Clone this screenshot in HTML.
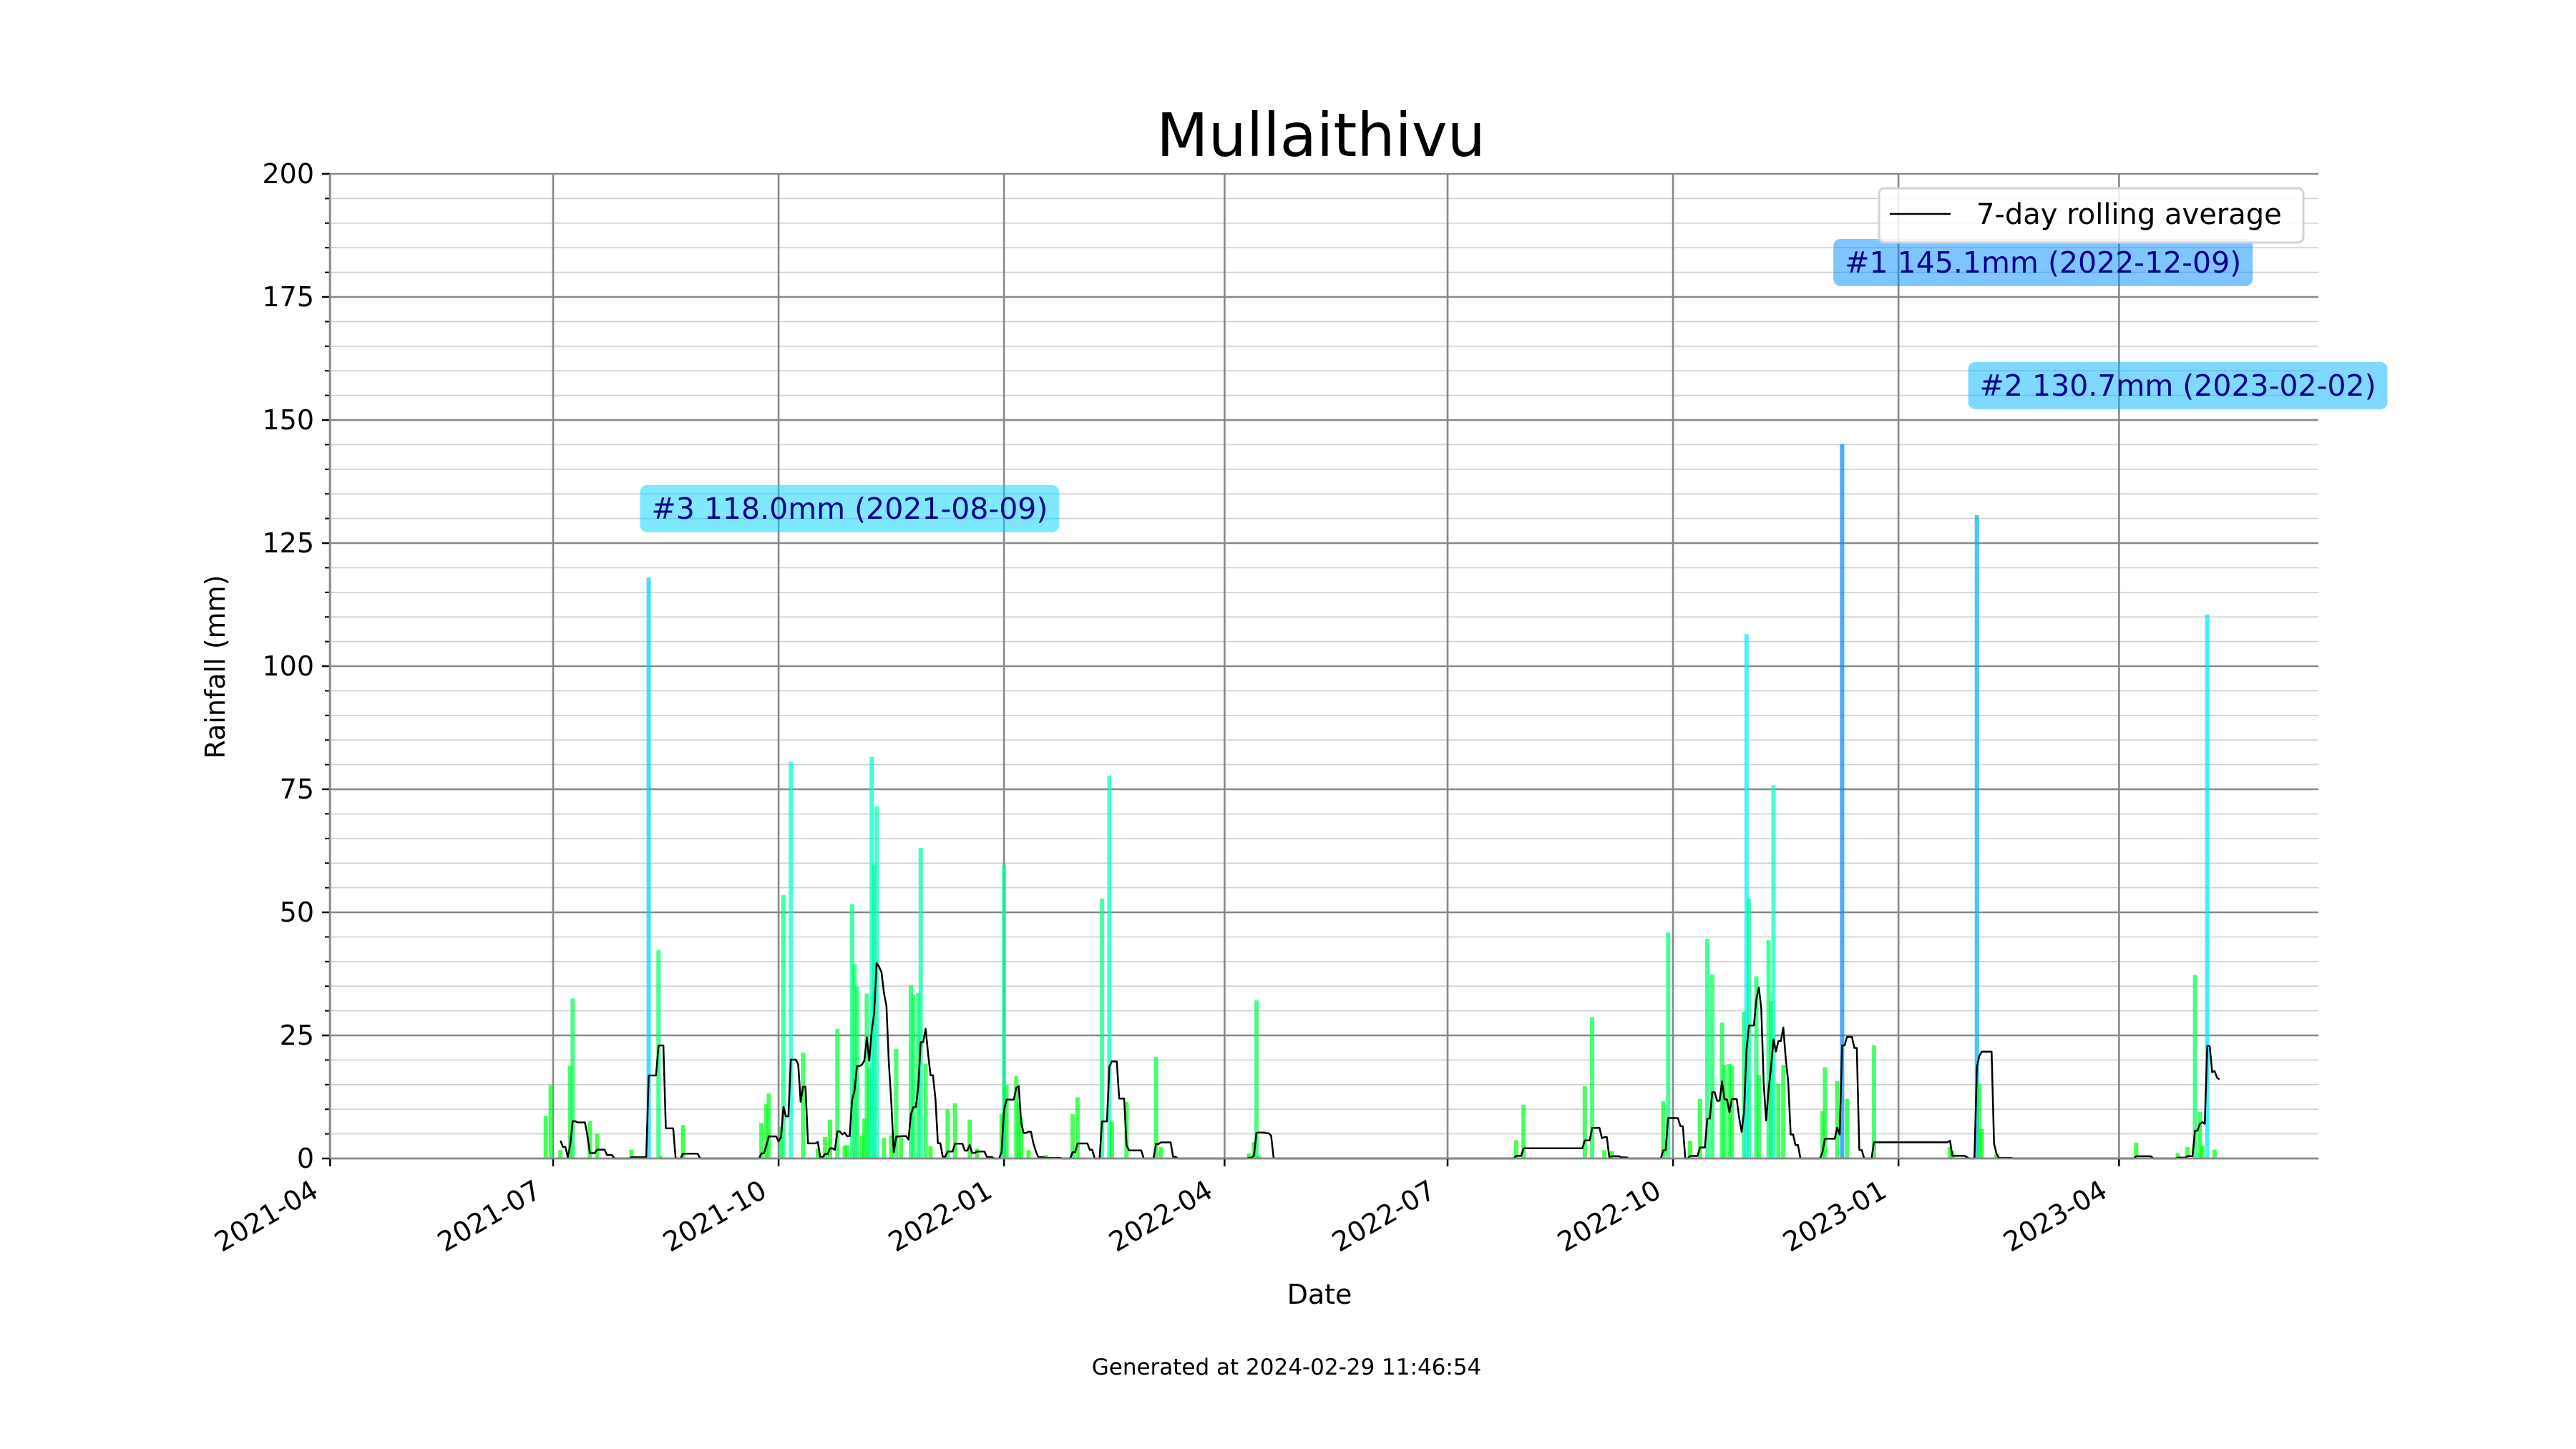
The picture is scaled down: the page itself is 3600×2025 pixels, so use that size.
<!DOCTYPE html>
<html><head><meta charset="utf-8"><title>Mullaithivu Rainfall</title>
<style>
html,body{margin:0;padding:0;background:#fff;}
svg{display:block;font-family:"DejaVu Sans","Liberation Sans",sans-serif;}
</style></head>
<body>
<svg id="chart" xmlns="http://www.w3.org/2000/svg" width="3600" height="2025" viewBox="0 0 3600 2025">
<rect x="0" y="0" width="3600" height="2025" fill="#ffffff"/>
<g id="grid"></g>
<g id="bars"></g>
<g id="line"></g>
<g id="axes"></g>
<g id="annots"></g>
<text x="1846" y="218" font-size="84" text-anchor="middle" fill="#000">Mullaithivu</text>
<text x="1844" y="1822" font-size="38" text-anchor="middle" fill="#000">Date</text>
<text x="0" y="0" font-size="38" text-anchor="middle" fill="#000" transform="translate(314,932) rotate(-90)">Rainfall (mm)</text>
<text x="1798" y="1921" font-size="31" text-anchor="middle" fill="#000">Generated at 2024-02-29 11:46:54</text>
<g>
<rect x="2626" y="263" width="593" height="76" rx="8" fill="#ffffff" fill-opacity="0.85" stroke="#d3d3d3" stroke-width="3"/>
<line x1="2641" y1="299" x2="2726" y2="299" stroke="#000" stroke-width="2.5"/>
<text x="2762" y="313" font-size="40" fill="#000">7-day rolling average</text>
</g>
</svg>
<script>
// ---- data ----
const rainDates = ["2021-06-28","2021-06-30","2021-07-04","2021-07-08","2021-07-09","2021-07-16","2021-07-19","2021-08-02","2021-08-09","2021-08-13","2021-08-14","2021-08-23","2021-09-24","2021-09-26","2021-09-27","2021-10-02","2021-10-03","2021-10-06","2021-10-11","2021-10-17","2021-10-20","2021-10-22","2021-10-25","2021-10-28","2021-10-29","2021-10-31","2021-11-01","2021-11-02","2021-11-04","2021-11-05","2021-11-06","2021-11-07","2021-11-08","2021-11-09","2021-11-10","2021-11-13","2021-11-16","2021-11-18","2021-11-20","2021-11-24","2021-11-25","2021-11-27","2021-11-28","2021-11-30","2021-12-02","2021-12-09","2021-12-12","2021-12-18","2021-12-21","2021-12-31","2022-01-01","2022-01-02","2022-01-06","2022-01-07","2022-01-08","2022-01-11","2022-01-18","2022-01-29","2022-01-31","2022-02-10","2022-02-13","2022-02-14","2022-02-20","2022-03-04","2022-03-06","2022-04-11","2022-04-13","2022-04-14","2022-04-15","2022-07-29","2022-08-01","2022-08-26","2022-08-29","2022-09-03","2022-09-06","2022-09-27","2022-09-29","2022-10-08","2022-10-12","2022-10-15","2022-10-17","2022-10-21","2022-10-22","2022-10-24","2022-10-25","2022-10-30","2022-10-31","2022-11-01","2022-11-04","2022-11-05","2022-11-09","2022-11-10","2022-11-11","2022-11-13","2022-11-15","2022-12-01","2022-12-02","2022-12-07","2022-12-09","2022-12-11","2022-12-22","2023-01-22","2023-01-23","2023-02-02","2023-02-03","2023-02-04","2023-02-10","2023-04-08","2023-04-25","2023-04-29","2023-05-02","2023-05-04","2023-05-05","2023-05-07","2023-05-10"];
const rainValues = [8.6,14.9,1.7,18.8,32.5,7.6,5,1.8,118,42.3,0.5,6.8,7.2,11,13.2,6.4,53.5,80.6,21.5,2,4.4,7.9,26.3,2.6,2.7,51.7,39.5,34.9,4.7,8.1,33.5,18.4,81.6,59.7,71.5,4.2,4.7,22.3,4.7,35.2,33.3,33.6,63.1,19.2,2.5,10,11.2,7.9,2,9,59.7,14.9,16.7,11.5,8.2,1.7,0.7,9,12.4,52.8,77.8,7.4,11.5,20.6,2.3,1,3.3,32.1,0.5,3.7,10.9,14.7,28.7,1.7,1.5,11.6,45.9,3.6,12.1,44.6,37.4,27.6,19,19.2,18.8,29.8,106.5,52.8,37,17,44.3,32,75.8,15.1,19,9.6,18.5,15.7,145.1,12.1,23,2.3,1.5,130.7,15.2,6,0.8,3.2,1.1,2.3,37.3,9.5,2.6,110.5,1.8];
const coverageStarts = ["2021-06-28","2022-07-25","2022-08-24","2023-01-19"];
const coverageEnds = ["2022-05-31","2022-08-02","2022-12-24","2023-05-12"];
const yTickValues = [0,25,50,75,100,125,150,175,200];
const xTickLabels = ["2021-04","2021-07","2021-10","2022-01","2022-04","2022-07","2022-10","2023-01","2023-04"];
const annotRanks = ["#1","#2","#3"];
const annotDates = ["2022-12-09","2023-02-02","2021-08-09"];
const annotValues = [145.1,130.7,118.0];
const annotLabelValues = [182,157,132];
const annotLabelDates = ["2023-03-01","2023-04-25","2021-10-30"];

// ---- scales ----
const NS = "http://www.w3.org/2000/svg";
const DAY = 86400000;
const x0Date = Date.UTC(2021,6,1);
const PX_PER_DAY = 3.4247, X0 = 773;
const PLOT_L = 461, PLOT_R = 3240, PLOT_T = 243, PLOT_B = 1619;
function parseD(s){const p=s.split("-").map(Number);return Date.UTC(p[0],p[1]-1,p[2]||1);}
function dayOf(s){return Math.round((parseD(s)-x0Date)/DAY);}
function xScale(s){return X0 + (parseD(s)-x0Date)/DAY*PX_PER_DAY;}
function xDay(d){return X0 + d*PX_PER_DAY;}
function yScale(v){return PLOT_B - v*(PLOT_B-PLOT_T)/200;}
function colorFor(v){return "hsl("+(120+0.6*v).toFixed(1)+",100%,50%)";}
function mk(tag,attrs,parent){const e=document.createElementNS(NS,tag);for(const k in attrs)e.setAttribute(k,attrs[k]);parent.appendChild(e);return e;}

const grid=document.getElementById("grid"), axes=document.getElementById("axes");
for(let v=5;v<=200;v+=5){
  if(v%25===0) continue;
  const l=mk("line",{x1:PLOT_L,x2:PLOT_R,y1:yScale(v),y2:yScale(v),stroke:"#d0d0d0","stroke-width":1.6},grid);
  
  
  const t=mk("line",{x1:PLOT_L-7,x2:PLOT_L,y1:yScale(v),y2:yScale(v),stroke:"#000","stroke-width":2},axes);
  
  
}
yTickValues.forEach(v=>{
  const l=mk("line",{x1:PLOT_L,x2:PLOT_R,y1:yScale(v),y2:yScale(v),stroke:"#888","stroke-width":2.6},grid);
  
  
  const t=mk("line",{x1:PLOT_L-11,x2:PLOT_L,y1:yScale(v),y2:yScale(v),stroke:"#000","stroke-width":2.5},axes);
  
  
  const tx=mk("text",{x:PLOT_L-22,y:yScale(v)+13,"font-size":38,"text-anchor":"end",fill:"#000"},axes);
  tx.textContent=String(v);
  
  
});
xTickLabels.forEach(s=>{
  const x=xScale(s+"-01");
  const l=mk("line",{x1:x,x2:x,y1:PLOT_T,y2:PLOT_B,stroke:"#888","stroke-width":2.6},grid);
  
  
  const t=mk("line",{x1:x,x2:x,y1:PLOT_B,y2:PLOT_B+11,stroke:"#000","stroke-width":2.5},axes);
  
  
  const tx=mk("text",{x:0,y:0,"font-size":38,"text-anchor":"end",fill:"#000",transform:"translate("+(x-14)+","+(PLOT_B+52)+") rotate(-30)"},axes);
  tx.textContent=s;
  
  
});
const sb=mk("line",{x1:PLOT_L,x2:PLOT_R,y1:PLOT_B,y2:PLOT_B,stroke:"#888","stroke-width":2.6},axes);


const sl=mk("line",{x1:PLOT_L,x2:PLOT_L,y1:PLOT_T,y2:PLOT_B,stroke:"#888","stroke-width":2.6},axes);



const bars=document.getElementById("bars");
rainDates.forEach((d,i)=>{
  const v=rainValues[i], x=xScale(d), y=yScale(v);
  const r=mk("rect",{x:x-3,y:y,width:6,height:PLOT_B-y,fill:colorFor(v),"fill-opacity":0.72},bars);
  
  
});

const valByDay={};
rainDates.forEach((d,i)=>{valByDay[dayOf(d)]=rainValues[i];});
const rows=[];
coverageStarts.forEach((s,i)=>{for(let d=dayOf(s);d<=dayOf(coverageEnds[i]);d++)rows.push(d);});
const pts=[];
for(let i=6;i<rows.length;i++){
  let s=0;for(let k=i-6;k<=i;k++)s+=(valByDay[rows[k]]||0);
  pts.push(xDay(rows[i]).toFixed(1)+","+yScale(s/7).toFixed(1));
}
const pl=mk("polyline",{points:pts.join(" "),fill:"none",stroke:"#000","stroke-width":2.5,"stroke-linejoin":"round"},document.getElementById("line"));



const an=document.getElementById("annots");
annotRanks.forEach((r,i)=>{
  const cx=xScale(annotLabelDates[i]), cy=yScale(annotLabelValues[i]);
  const w=586, h=66;
  const g=mk("g",{},an);
  
  
  const bx=mk("rect",{x:cx-w/2,y:cy-h/2,width:w,height:h,rx:10,fill:colorFor(annotValues[i]),"fill-opacity":0.5},g);
  
  
  const t=mk("text",{x:cx,y:cy+14,"font-size":41,"text-anchor":"middle",fill:"#00008b"},g);
  t.textContent=r+" "+annotValues[i].toFixed(1)+"mm ("+annotDates[i]+")";
  
  
});
</script>
</body></html>
